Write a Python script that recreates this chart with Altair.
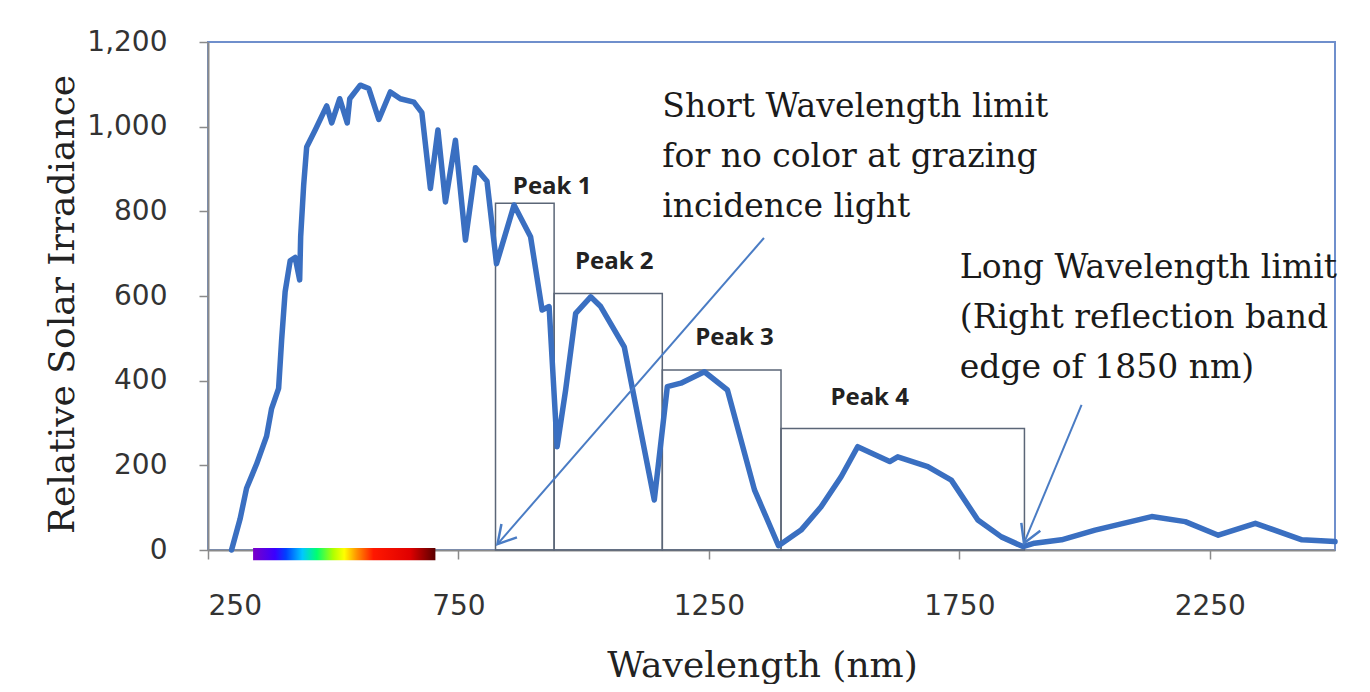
import math
import altair as alt
import pandas as pd

# ---------------- data ----------------
wavelength = [297, 314, 327, 347, 367, 377, 391, 397, 404, 414,
              424, 433, 435, 441, 447, 464, 487, 497, 513, 528,
              533, 554, 571, 591, 614, 634, 661, 677, 694, 709,
              724, 744, 764, 784, 807, 826, 861, 894, 917, 931,
              947, 964, 984, 1014, 1034, 1081, 1107, 1141, 1167, 1194,
              1241, 1287, 1341, 1389, 1434, 1474, 1514, 1547, 1611, 1627,
              1687, 1734, 1787, 1834, 1877, 1900, 1954, 2021, 2134, 2201,
              2267, 2341, 2434, 2500]
irradiance = [0, 73, 146, 203, 269, 334, 382, 496, 610, 683,
              691, 638, 740, 862, 952, 992, 1049, 1009, 1066, 1009,
              1066, 1098, 1090, 1017, 1082, 1066, 1058, 1033, 854, 992,
              822, 968, 732, 903, 871, 676, 815, 740, 567, 575,
              244, 378, 559, 598, 575, 480, 323, 118, 386, 394,
              421, 378, 142, 10, 47, 102, 173, 244, 209, 220,
              197, 165, 71, 31, 8, 16, 24, 47, 79, 67,
              35, 63, 24, 20]

peak_labels = ["Peak 1", "Peak 2", "Peak 3", "Peak 4"]
peak_start = [824, 941, 1157, 1394]
peak_end = [941, 1157, 1394, 1880]
peak_height = [819, 606, 425, 287]
peak_label_wl = [937, 1061, 1301, 1571]
peak_label_val = [858, 681, 500, 358]

arrow_from_wl = [1360, 1994]
arrow_from_val = [737, 343]
arrow_to_wl = [828, 1879]
arrow_to_val = [14, 16]

note_texts = ["Short Wavelength limit\nfor no color at grazing\nincidence light",
              "Long Wavelength limit\n(Right reflection band\nedge of 1850 nm)"]
note_wl = [1157, 1751]
note_val = [1085, 704]

spectrum_from = [340]
spectrum_to = [704]
spectrum_colors = ["#7a00c8", "#3a00ff", "#0040ff", "#00c8ff", "#00ff70",
                   "#b0ff00", "#ffff00", "#ff9000", "#ff1800", "#e00000", "#5a0000"]
spectrum_offsets = [0.0, 0.12, 0.18, 0.27, 0.35, 0.44, 0.5, 0.57, 0.66, 0.86, 1.0]

x_ticks = [250, 750, 1250, 1750, 2250]
y_ticks = [0, 200, 400, 600, 800, 1000, 1200]

# ---------------- layout ----------------
W, H = 1127, 508
XMIN, XMAX = 250, 2500
YMIN, YMAX = 0, 1200

curve = pd.DataFrame({"wl": wavelength, "val": irradiance})
peaks = pd.DataFrame({"label": peak_labels, "x1": peak_start, "x2": peak_end,
                      "top": peak_height, "lx": peak_label_wl, "ly": peak_label_val})

angles = []
for fx, fy, tx, ty in zip(arrow_from_wl, arrow_from_val, arrow_to_wl, arrow_to_val):
    dx = (tx - fx) * W / (XMAX - XMIN)
    dy = -(ty - fy) * H / (YMAX - YMIN)
    angles.append(math.degrees(math.atan2(dy, dx)) % 360)
arrows = pd.DataFrame({"fx": arrow_from_wl, "fy": arrow_from_val,
                       "tx": arrow_to_wl, "ty": arrow_to_val, "ang": angles})
notes = pd.DataFrame({"text": note_texts, "wl": note_wl, "val": note_val})
spectrum = pd.DataFrame({"a": spectrum_from, "b": spectrum_to, "top": [5], "bot": [-24]})

xs = alt.Scale(domain=[XMIN, XMAX], nice=False, zero=False)
ys = alt.Scale(domain=[YMIN, YMAX], nice=False)

x_axis = alt.Axis(values=x_ticks, format="d", title="Wavelength (nm)", grid=False,
                  labelFont="DejaVu Sans", labelFontSize=28, labelColor="#333333",
                  tickSize=9, tickColor="#8a8a8a", tickWidth=1.5,
                  domainColor="#8a8a8a", domainWidth=2, labelPadding=33,
                  titleFont="DejaVu Serif", titleFontSize=36, titleFontWeight="normal",
                  titleColor="#222222", titleX=554, titleY=126,
                  titleAlign="center", titleBaseline="alphabetic")
y_axis = alt.Axis(values=y_ticks, format=",d", title="Relative Solar Irradiance", grid=False,
                  labelFont="DejaVu Sans", labelFontSize=28, labelColor="#333333",
                  tickSize=9, tickColor="#8a8a8a", tickWidth=1.5,
                  domainColor="#8a8a8a", domainWidth=2, labelPadding=32,
                  titleFont="DejaVu Serif", titleFontSize=36, titleFontWeight="normal",
                  titleColor="#222222", titleX=-135, titleY=262, titleAngle=270,
                  titleAlign="center", titleBaseline="alphabetic")

boxes = alt.Chart(peaks).mark_rect(filled=False, color="#5b6677", strokeWidth=1.5).encode(
    x=alt.X("x1:Q", scale=xs, axis=x_axis),
    x2="x2:Q",
    y=alt.Y("top:Q", scale=ys, axis=y_axis),
    y2=alt.datum(0),
)

line = alt.Chart(curve).mark_line(color="#3a6fc1", strokeWidth=5.5, strokeJoin="round",
                                  strokeCap="round").encode(
    x=alt.X("wl:Q", scale=xs),
    y=alt.Y("val:Q", scale=ys),
)

labels = alt.Chart(peaks).mark_text(font="Open Sans", fontWeight="bold", fontSize=24,
                                    color="#222222", align="center", baseline="middle").encode(
    x=alt.X("lx:Q", scale=xs), y=alt.Y("ly:Q", scale=ys), text="label:N")

arrow_lines = alt.Chart(arrows).mark_rule(color="#4a7cc4", strokeWidth=2).encode(
    x=alt.X("fx:Q", scale=xs), y=alt.Y("fy:Q", scale=ys), x2="tx:Q", y2="ty:Q")

arrow_heads = alt.Chart(arrows).mark_point(
    shape="M-1.3,-0.75L0,0L-1.3,0.75", filled=False, color="#4a7cc4",
    strokeWidth=2.5, size=750, opacity=1).encode(
    x=alt.X("tx:Q", scale=xs), y=alt.Y("ty:Q", scale=ys),
    angle=alt.Angle("ang:Q", scale=None))

gradient = alt.LinearGradient(
    gradient="linear", x1=0, x2=1, y1=0, y2=0,
    stops=[alt.GradientStop(color=c, offset=o) for c, o in zip(spectrum_colors, spectrum_offsets)])
bar = alt.Chart(spectrum).mark_rect(color=gradient).encode(
    x=alt.X("a:Q", scale=xs), x2="b:Q", y=alt.Y("top:Q", scale=ys), y2="bot:Q")

note_layer = alt.Chart(notes).mark_text(font="DejaVu Serif", fontSize=33, color="#1a1a1a",
                                        align="left", baseline="top", lineBreak="\n",
                                        lineHeight=50).encode(
    x=alt.X("wl:Q", scale=xs), y=alt.Y("val:Q", scale=ys), text="text:N")

chart = alt.layer(boxes, line, bar, arrow_lines, arrow_heads, labels, note_layer).properties(
    width=W, height=H,
    autosize=alt.AutoSizeParams(type="none"),
    padding={"left": 200, "top": 34, "right": 25, "bottom": 134},
    background="white",
).configure_view(stroke="#6f8fcc", strokeWidth=2)

chart.save("out.html", embed_options={"renderer": "svg", "actions": False})
